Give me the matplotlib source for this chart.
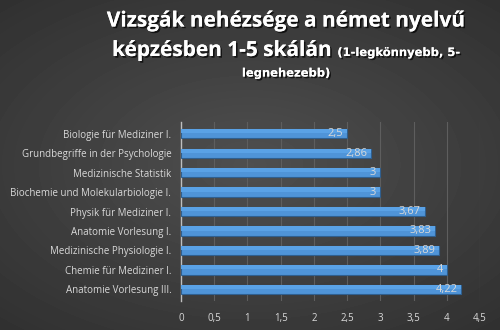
import numpy as np
import matplotlib
matplotlib.use("Agg")
import matplotlib.pyplot as plt
import matplotlib.patheffects as pe

# exam difficulty, 1-5 scale
subjects = [
    "Biologie für Mediziner I.",
    "Grundbegriffe in der Psychologie",
    "Medizinische Statistik",
    "Biochemie und Molekularbiologie I.",
    "Physik für Mediziner I.",
    "Anatomie Vorlesung I.",
    "Medizinische Physiologie I.",
    "Chemie für Mediziner I.",
    "Anatomie Vorlesung III.",
]
scores = [2.5, 2.86, 3, 3, 3.67, 3.83, 3.89, 4, 4.22]
ticks = [0, 0.5, 1, 1.5, 2, 2.5, 3, 3.5, 4, 4.5]

plt.rcParams['font.family'] = ['Open Sans', 'DejaVu Sans']

fig = plt.figure(figsize=(5, 3.3), dpi=100)

# dark radial background
bg = fig.add_axes([0, 0, 1, 1], zorder=-10)
yy, xx = np.mgrid[-1:1:330j, -1:1:500j]
r = np.sqrt((xx * 0.9) ** 2 + (yy * 1.0) ** 2)
shade = 0.31 - 0.12 * np.clip(r / 1.35, 0, 1)
bg.imshow(shade, cmap='gray', vmin=0, vmax=1, aspect='auto', extent=[0, 1, 0, 1])
bg.axis('off')

ax = fig.add_axes([0.362, 0.088, 0.598, 0.542])
ax.set_facecolor('none')

ypos = np.arange(len(subjects))
bars = ax.barh(ypos, scores, height=0.48, color='#4f94d8', edgecolor='#2f5f8f',
               linewidth=0.8, zorder=3)
for b in bars:
    # lighter upper half for a bit of sheen
    x0, y0 = b.get_x(), b.get_y()
    ax.add_patch(plt.Rectangle((x0, y0), b.get_width(), b.get_height() * 0.45,
                               color='#5aa2e6', lw=0, zorder=3.5))
for b, v in zip(bars, scores):
    lbl = f"{v:g}".replace('.', ',')
    ax.text(v - 0.06, b.get_y() + b.get_height() / 2, lbl, ha='right', va='center',
            fontsize=8, color='#d9d9d9', zorder=5)

ax.set_ylim(len(subjects) - 0.5 + 0.1, -0.5 - 0.1)
ax.set_xlim(0, 4.5)
ax.set_xticks(ticks)
ax.set_xticklabels([f"{t:g}".replace('.', ',') for t in ticks])
ax.set_yticks(ypos)
ax.set_yticklabels(subjects)
ax.tick_params(axis='both', length=0, colors='#d9d9d9', labelsize=7)
ax.tick_params(axis='y', pad=7)
ax.tick_params(axis='x', pad=9)
ax.grid(axis='x', color='#5e5e5e', linewidth=0.8, zorder=0)
for s in ['top', 'right', 'bottom']:
    ax.spines[s].set_visible(False)
ax.spines['left'].set_color('#bfbfbf')
ax.spines['left'].set_linewidth(1.0)

# title with shadow
shadow = [pe.withSimplePatchShadow(offset=(1.2, -1.2), shadow_rgbFace='black', alpha=0.7), pe.Normal()]
small = dict(fontsize=8.3, fontweight='bold', color='white', path_effects=shadow,
             family=['DejaVu Sans'])
cx = 286 / 500
fig.text(cx, 1 - 21 / 330, "Vizsgák nehézsége a német nyelvű", ha='center', va='center',
         fontsize=15, fontweight='bold', color='white', path_effects=shadow)
t_big = fig.text(0, 1 - 50 / 330, "képzésben 1-5 skálán ", ha='left', va='baseline',
                 fontsize=15, fontweight='bold', color='white', path_effects=shadow)
t_small = fig.text(0, 1 - 50 / 330, "(1-legkönnyebb, 5-", ha='left', va='baseline', **small)
fig.text(cx, 1 - 73 / 330, "legnehezebb)", ha='center', va='center', **small)

# line 2 mixes two sizes; lay both pieces out centered on the same axis
fig.canvas.draw()
rend = fig.canvas.get_renderer()
wb = t_big.get_window_extent(rend).width
ws = t_small.get_window_extent(rend).width
left = cx * 500 - (wb + ws) / 2
base_y = 1 - 56 / 330
t_big.set_position((left / 500, base_y))
t_small.set_position(((left + wb) / 500, base_y))

fig.savefig("out.png", dpi=100)
